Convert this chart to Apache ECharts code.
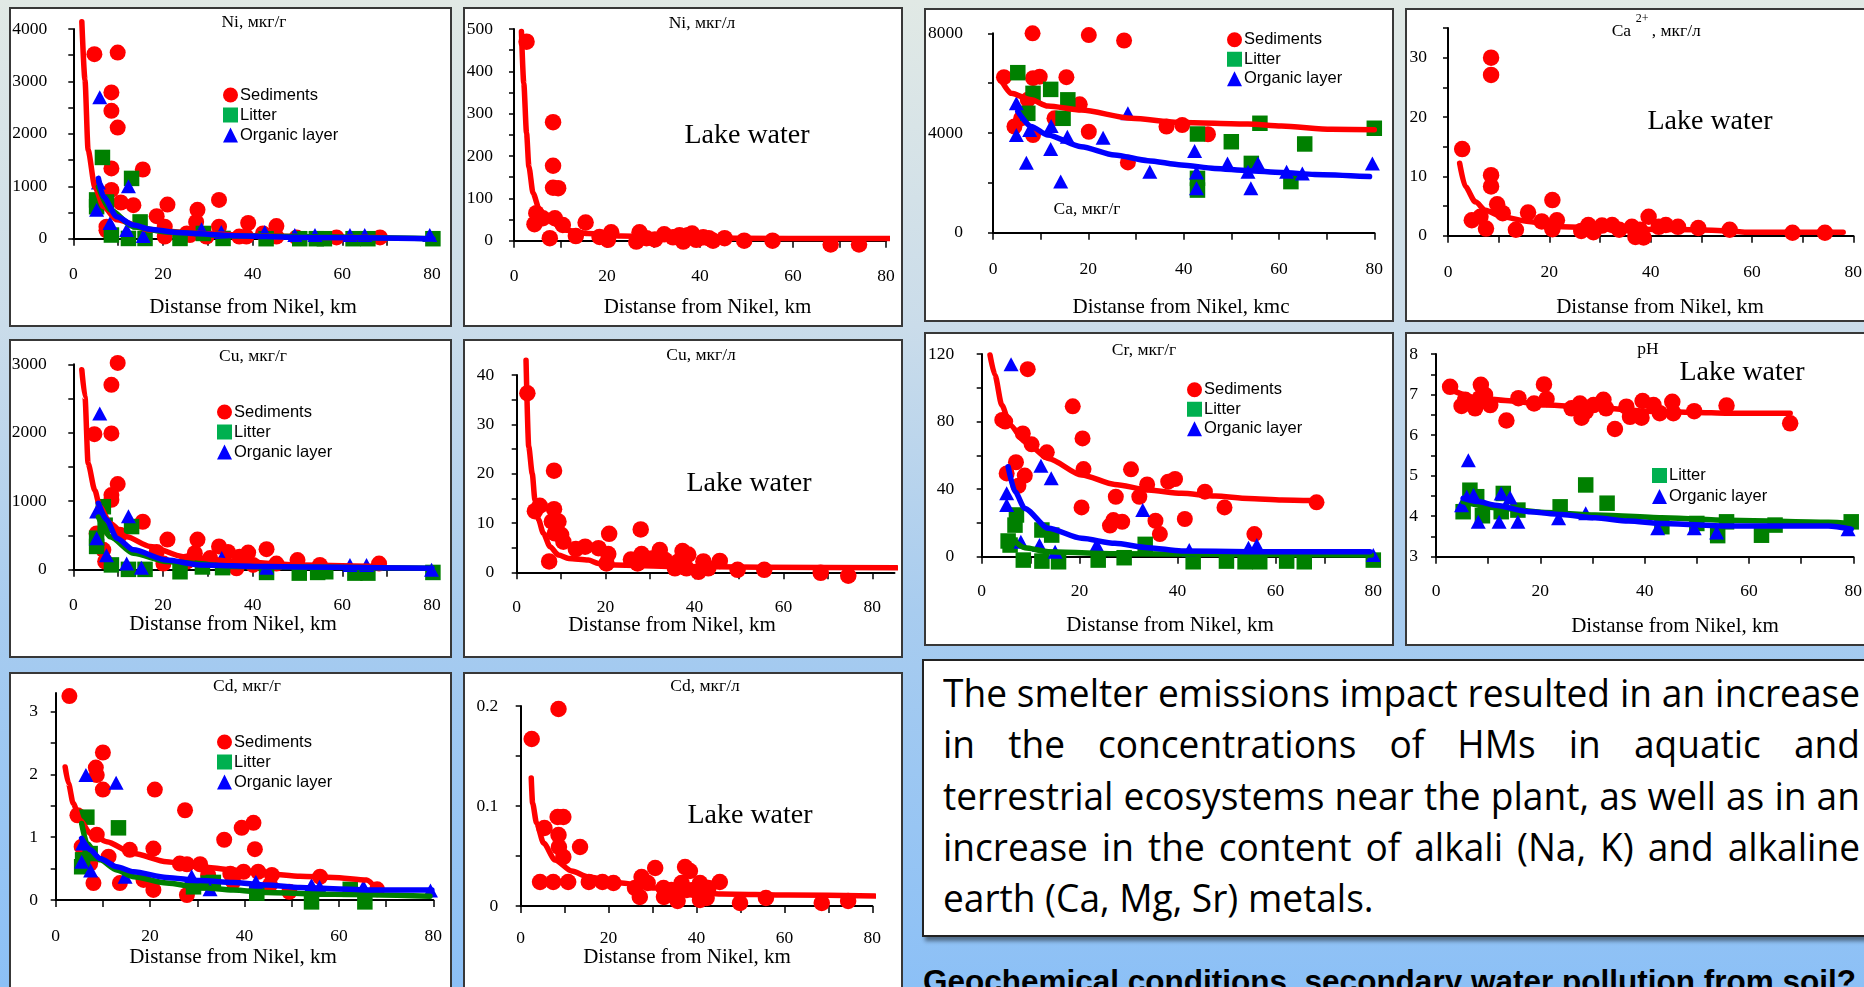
<!DOCTYPE html>
<html><head><meta charset="utf-8">
<script src="https://cdn.jsdelivr.net/npm/echarts@6/dist/echarts.min.js"></script>
<style>
html,body{margin:0;padding:0;}
body{width:1864px;height:987px;overflow:hidden;position:relative;background:linear-gradient(to bottom,#e1e9e5 0%,#cadcea 33%,#a8ccef 62%,#8cc0f6 100%);}
.box{position:absolute;box-sizing:border-box;background:#fff;border:2px solid #383838;}
.chart{position:absolute;}
#note{position:absolute;left:922px;top:659px;width:960px;height:278px;box-sizing:border-box;background:#fff;border:2px solid #222;box-shadow:3px 4px 4px rgba(0,0,0,0.45);}
#noteText{position:absolute;left:943px;top:667px;transform-origin:0 0;font-family:'Open Sans',sans-serif;font-size:38px;color:#000;}
#noteText div{height:51.25px;line-height:51.25px;text-align:justify;text-align-last:justify;}
#noteText div.last{text-align-last:left;}
#bottomText{position:absolute;left:923px;top:966px;font:bold 31.5px 'Liberation Sans',Arial,sans-serif;line-height:31.5px;white-space:nowrap;color:#000;}
</style></head>
<body>
<div id="note"></div>
<div id="noteText"></div>
<div id="bottomText">Geochemical conditions, secondary water pollution from soil?</div>
<script>
// ---------- tick / label values ----------
const xTickVals = [0,10,20,30,40,50,60,70,80];
const xLabelVals = [0,20,40,60,80];
const niG_yTicks = [0,500,1000,1500,2000,2500,3000,3500,4000];
const niG_yLabels = [0,1000,2000,3000,4000];
const niL_yTicks = [0,50,100,150,200,250,300,350,400,450,500];
const niL_yLabels = [0,100,200,300,400,500];
const caG_yTicks = [0,2000,4000,6000,8000];
const caG_yLabels = [0,4000,8000];
const caL_yTicks = [0,5,10,15,20,25,30,35];
const caL_yLabels = [0,10,20,30];
const cuG_yTicks = [0,500,1000,1500,2000,2500,3000];
const cuG_yLabels = [0,1000,2000,3000];
const cuL_yTicks = [0,5,10,15,20,25,30,35,40];
const cuL_yLabels = [0,10,20,30,40];
const crG_yTicks = [0,20,40,60,80,100,120];
const crG_yLabels = [0,40,80,120];
const ph_yTicks = [3,3.5,4,4.5,5,5.5,6,6.5,7,7.5,8];
const ph_yLabels = [3,4,5,6,7,8];
const cdG_yTicks = [0,0.5,1,1.5,2,2.5,3];
const cdG_yLabels = [0,1,2,3];
const cdL_yTicks = [0,0.05,0.1,0.15,0.2];
const cdL_yLabels = [0,0.1,0.2];

// ---------- Ni, mkg/g ----------
const niG_sed = [[4.7,3520],[9.9,3550],[8.5,2790],[8.5,2440],[9.9,2120],[8.5,1340],[15.5,1320],[8.5,930],[10.6,690],[13.4,640],[21,650],[18.6,430],[27.7,550],[27.4,320],[32.5,740],[39,300],[45.3,240],[32.5,230],[20.4,230],[20.4,40],[7.4,230],[7.4,160],[25.3,100],[26,70],[37,40],[42.3,100],[38.6,40],[45.3,40],[49.8,25],[68.4,25],[58.7,25],[29.7,40]];
const niG_lit = [[6.5,1550],[13,1150],[5.2,740],[5.2,610],[7.4,700],[8.5,70],[12.3,5],[14.9,320],[16,5],[23.8,5],[29,100],[33.4,5],[43,0],[50.5,0],[54.2,0],[56,0],[62.4,0],[65.7,0],[80.2,0]];
const niG_org = [[5.9,2700],[5.6,1070],[12.3,1000],[5.2,550],[8.2,300],[11.9,165],[15.6,50],[28.6,180],[33,130],[42.7,130],[49.4,70],[53.9,70],[61.7,70],[65,70],[79.5,70]];
const niG_trSed = [[1.9,4140],[2.6,3030],[3.3,1690],[4.8,990],[6.7,610],[9.7,360],[17.1,165],[28.2,100],[43,50],[57.9,25],[68.4,25]];
const niG_trLit = [[5.6,990],[8.2,550],[13.4,230],[20.8,130],[35.7,50],[80,0]];
const niG_trOrg = [[5.6,1150],[6.7,800],[9.7,420],[13.4,260],[17.1,180],[23,120],[35.7,57],[50.5,25],[80.2,0]];

// ---------- Ni, mkg/l ----------
const niL_water = [[2.7,470],[8.4,280],[8.4,177],[8.4,125],[9.5,124],[4.8,65],[4.4,39],[6.2,53],[7.7,6],[8.8,53],[10.5,37],[15.4,43],[13.3,11],[18.4,9],[20.9,20],[20.2,2],[27,20],[26.3,-2],[28.5,6],[30.3,3],[32.3,15],[34.2,8],[35.6,13],[36.4,-2],[37.4,13],[38.3,17],[39.2,2],[40.7,8],[41.9,6],[42.8,0],[45.3,6],[49.5,0],[55.6,0],[68.1,-9],[74.2,-9]];
const niL_tr = [[1.6,494],[2.1,372],[2.7,254],[3.2,175],[4.1,112],[5.5,72],[8,45],[10.9,25],[15.9,17],[23.1,11],[37.4,7],[59,5],[81.2,5]];

// ---------- Ca, mkg/g ----------
const caG_sed = [[8.3,8000],[20.1,7930],[27.5,7710],[2.3,6240],[8.4,6200],[9.8,6260],[15.4,6240],[4.5,4260],[5.9,4590],[8.4,3920],[12.9,4590],[18.2,5150],[20.1,4050],[28.3,2820],[36.4,4260],[39.7,4320],[45.1,3950],[7.3,5330]];
const caG_lit = [[5.2,6420],[8.4,5590],[12.1,5750],[15.7,5330],[14.7,4590],[7.3,4790],[42.9,3960],[42.9,2180],[42.9,1710],[50,3650],[54.2,2780],[56,4390],[62.5,2050],[65.4,3560],[80,4190]];
const caG_org = [[4.9,5190],[4.9,3920],[7,2810],[7.7,4120],[12.1,3360],[12.2,4280],[14.2,2050],[15.6,3850],[23.1,3810],[28.3,4790],[32.9,2450],[42.3,3280],[42.7,2420],[42.7,1780],[49.2,2780],[53.5,2450],[54.1,1780],[55.6,2780],[61.6,2450],[64.9,2380],[79.6,2780]];
const caG_trSed = [[1.7,6130],[3.8,5590],[8,5330],[11.5,5080],[18.5,4920],[29,4590],[39.5,4420],[53.5,4360],[60.5,4280],[71,4150],[80,4130]];
const caG_trOrg = [[5.2,4860],[8,4260],[11.5,3920],[18.5,3450],[25.5,3120],[32.5,2890],[39.5,2720],[46.5,2580],[53.5,2490],[60.5,2420],[67.5,2340],[79,2250]];

// ---------- Ca2+, mkg/l ----------
const caL_water = [[2.8,14.6],[8.5,30],[8.5,27.1],[8.5,10.2],[8.5,8.3],[9.7,5.3],[10.8,3.8],[4.7,2.6],[6.4,3.2],[7.5,1.2],[13.4,1],[15.8,3.9],[18.5,2.4],[20.6,6],[21.5,2.6],[20.6,1.1],[26.3,0.8],[27.7,1.8],[28.7,0.6],[30.4,1.7],[32.4,1.8],[33.8,1],[36.3,1.5],[37,-0.2],[38.6,-0.3],[39.6,3.2],[37.9,1],[41.6,1.5],[43,1.8],[45.4,1.5],[49.4,1.3],[55.6,1],[68,0.5],[74.4,0.5]];
const caL_tr = [[2.3,12.2],[3.4,8.3],[5.4,5.7],[7.4,4.3],[10.7,3.2],[15.9,2.4],[22.5,1.5],[35.6,1.1],[48.8,1],[55.4,0.8],[58.6,0.6],[78,0.6]];

// ---------- Cu, mkg/g ----------
const cuG_sed = [[9.9,3020],[8.5,2700],[4.7,1980],[8.5,1990],[9.9,1250],[8.5,1090],[8.5,1020],[15.5,700],[21,440],[27.7,440],[32.5,340],[39,250],[43.1,300],[34.5,260],[37.1,190],[45.3,90],[50,140],[55,70],[68.2,90],[18.6,260],[20.1,90],[25.3,120],[27.1,240],[30.5,170],[36.4,20],[40.1,70],[7.1,120],[6.7,290],[10.4,510],[5.2,530]];
const cuG_lit = [[6.7,920],[7.1,650],[13,630],[5.2,340],[5.2,460],[8.5,70],[12.3,5],[16,5],[23.8,-30],[28.8,40],[33.3,30],[43.1,-40],[50.4,-50],[54.5,-40],[56.3,-30],[62.8,-50],[65.7,-50],[80.2,-40]];
const cuG_org = [[5.9,2280],[5.2,850],[12.3,780],[5.2,460],[7.4,210],[11.9,90],[15.2,30],[33.1,170],[43.1,30],[61.7,70],[65.4,70],[79.9,0]];
const cuG_trSed = [[1.9,2920],[2.6,2530],[3.3,1550],[4.8,1160],[5.9,920],[8.2,680],[11.9,480],[17.1,340],[24.5,190],[35.7,120],[50.5,70],[69.1,45]];
const cuG_trLit = [[5.6,770],[8.2,480],[13.4,240],[20.8,120],[35.7,45],[80,20]];
const cuG_trOrg = [[5.6,970],[7.4,730],[9.7,460],[13.4,290],[20.8,140],[28.2,70],[43.1,45],[58,35],[80,20]];

// ---------- Cu, mkg/l ----------
const cuL_water = [[2.4,36.3],[8.4,20.6],[4.1,12.4],[5.2,13.5],[8.4,12.8],[9.4,10.3],[7.9,10.3],[7.3,2.2],[10,7.6],[10.5,6.2],[8.6,7.9],[13.3,4.7],[15.4,5.2],[18.4,4.9],[20.8,7.8],[20.6,3.7],[20.2,1.8],[25.7,2.6],[27.9,8.7],[28.1,3.7],[27.2,1.8],[30.4,2.8],[32.2,4.5],[33.4,2.5],[35.6,0.8],[37.3,4.3],[38.6,3.6],[38.2,0.8],[40.9,0.1],[42,2.2],[43.1,0.8],[45.7,2.3],[49.7,0.5],[55.7,0.5],[68.4,-0.1],[74.6,-0.7],[36.4,2.2]];
const cuL_tr = [[2.1,43],[2.7,25.5],[3.5,20],[4.1,14.7],[4.9,10.7],[6,7.9],[7.5,5.2],[9.4,3.5],[11.7,2.8],[16.1,2.5],[18.4,1.8],[22.1,1.5],[35,1.2],[55,1],[85.5,0.9]];

// ---------- Cr, mkg/g ----------
const crG_sed = [[9.4,111],[18.6,89],[4.2,81],[4.8,80],[8.4,73],[10.2,66.5],[13.3,61.8],[20.6,70],[20.8,51.9],[7,55.9],[5.1,49.3],[8.8,48],[7.5,42],[20.4,29.2],[30.5,51.7],[27.4,35.5],[32.2,35.5],[33.8,42.8],[26.2,18.4],[26.9,21.7],[28.7,20.7],[35.5,21.3],[36.4,13.4],[38.1,44.4],[39.5,46],[41.5,22.3],[45.6,38.5],[49.6,29.2],[55.7,13.4],[68.4,32.2]];
const crG_lit = [[5.4,9.3],[6.8,18.7],[7.1,24.7],[5.8,6.9],[8.5,-2],[12.3,15.8],[14.3,12.8],[12.3,-2.6],[15.7,-3],[23.8,-2],[29.1,-0.6],[33.4,7.3],[43.2,-3],[50,-2.6],[53.8,-3],[56.8,-3],[62.3,-2.6],[65.9,-3],[80,-2]];
const crG_org = [[6,113.9],[5.1,37.5],[5.1,30.6],[12.1,53.9],[14.2,46.4],[32.9,27.6],[8,8.9],[11.8,6.9],[15,3],[23.5,6.9],[42.4,3.9],[54.5,5.3],[56.2,6.9],[80,1]];
const crG_trSed = [[1.7,119.4],[2.7,107.6],[4.1,89.8],[5.8,78],[8.8,68.1],[13.6,58.2],[20.4,48.4],[27.2,42.8],[34,39.5],[40.8,37.5],[47.7,35.9],[54.5,34.5],[61.3,33.6],[68,33.2]];
const crG_trLit = [[6.1,10.9],[8.8,5.3],[13.6,3],[27.2,1.8],[79.6,1]];
const crG_trOrg = [[5.4,53.3],[6.8,38.5],[8.8,28.6],[13.6,16.8],[20.4,10.9],[27.2,7.9],[34,5.3],[40.8,3.4],[54.5,3],[79.3,3]];

// ---------- pH ----------
const ph_water = [[2.7,7.19],[4.9,6.72],[5.6,6.87],[7.5,6.66],[8.6,7.24],[8.4,6.91],[9.4,6.99],[10.4,6.74],[13.5,6.36],[15.8,6.91],[18.8,6.78],[20.7,7.25],[21.2,6.89],[26,6.66],[27.6,6.78],[27.9,6.43],[28.7,6.58],[30.2,6.74],[32.1,6.87],[32.6,6.66],[34.3,6.15],[36.5,6.7],[37.2,6.45],[39.4,6.43],[39.6,6.84],[41.7,6.74],[42.9,6.54],[45.3,6.82],[45.5,6.54],[49.5,6.59],[55.7,6.73],[67.9,6.29]];
const ph_lit = [[5.2,4.11],[6.5,4.64],[7.8,4.48],[8.9,4.01],[12.5,4.11],[12.9,4.56],[15.7,4.15],[23.8,4.23],[28.7,4.77],[32.8,4.32],[43.3,3.74],[50,3.82],[54,3.52],[55.7,3.86],[62.4,3.53],[65,3.78],[79.6,3.86]];
const ph_org = [[6.2,5.38],[4.9,4.27],[7.2,4.52],[8.1,3.86],[12.1,3.86],[12.5,4.56],[14.2,4.46],[15.7,3.86],[23.5,3.95],[28.7,4.07],[42.5,3.7],[49.5,3.7],[53.8,3.6],[79,3.68],[5.9,4.48]];
const ph_trWater = [[3,7.11],[8.1,6.91],[14.5,6.84],[20.9,6.74],[30.5,6.68],[40.1,6.59],[49.6,6.56],[56,6.54],[67.9,6.54]];
const ph_trLit = [[5.2,4.36],[11.3,4.21],[20.9,4.09],[30.5,4.03],[43.3,3.96],[56,3.9],[75.2,3.85],[79.7,3.82]];
const ph_trOrg = [[5.2,4.44],[8.1,4.36],[11.3,4.27],[17.7,4.11],[24.1,4.04],[30.5,3.96],[36.9,3.88],[43.3,3.82],[55.9,3.76],[75.2,3.76],[79.6,3.68]];

// ---------- Cd, mkg/g ----------
const cdG_sed = [[2.9,3.25],[10,2.35],[8.5,2.11],[8.7,1.99],[10,1.76],[21,1.76],[27.4,1.43],[4.6,1.35],[8.7,1.04],[39.4,1.15],[41.9,1.23],[35.7,0.96],[42.2,0.81],[20.7,0.82],[15.7,0.8],[11.2,0.69],[5.5,0.85],[7.3,0.58],[8,0.27],[13.6,0.27],[18.6,0.32],[20.7,0.16],[26.3,0.58],[27.8,0.57],[30.6,0.57],[27.8,0.08],[32.3,0.4],[37,0.42],[39.8,0.45],[42.9,0.45],[45.8,0.4],[37.6,0.29],[45.4,0.24],[49.5,0.13],[56,0.37],[68.1,0.17]];
const cdG_lit = [[6.6,1.32],[13.3,1.15],[5.7,0.64],[5.5,0.53],[7.3,0.74],[33.4,0.28],[32.3,0.27],[42.6,0.11],[54.2,-0.03],[65.5,-0.03],[62.4,0.17],[29.2,0.21]];
const cdG_org = [[6.4,1.99],[12.8,1.87],[5.7,0.9],[5.5,0.61],[7.4,0.47],[14.7,0.37],[28.8,0.38],[32.7,0.17],[42.4,0.29],[54.2,0.24],[55.9,0.21],[65.2,0.21],[79.4,0.15]];
const cdG_trSed = [[2,2.12],[2.7,1.86],[3.7,1.54],[5.2,1.27],[7.3,1.06],[10.8,0.93],[16.5,0.74],[23.5,0.61],[30.6,0.53],[37.6,0.48],[44.7,0.42],[51.8,0.38],[58.8,0.36],[65.9,0.32],[68,0.17]];
const cdG_trLit = [[5.5,1.22],[6.6,0.9],[9.4,0.64],[12.9,0.48],[16.5,0.37],[23.5,0.27],[30.6,0.2],[37.6,0.16],[44.7,0.12],[58.8,0.09],[79.3,0.06]];
const cdG_trOrg = [[5.5,0.98],[7.3,0.8],[9.4,0.66],[12.9,0.53],[16.5,0.45],[23.5,0.36],[30.6,0.31],[37.6,0.28],[44.7,0.24],[51.8,0.2],[58.8,0.18],[65.9,0.16],[79.7,0.16]];

// ---------- Cd, mkg/l ----------
const cdL_water = [[2.5,0.167],[8.6,0.197],[5.4,0.078],[8.4,0.089],[9.7,0.089],[8.6,0.071],[8.7,0.059],[9.7,0.049],[13.5,0.059],[4.4,0.024],[7.4,0.024],[10.8,0.024],[15.5,0.024],[18.6,0.024],[21.1,0.023],[26,0.018],[27.5,0.029],[28.9,0.023],[27.1,0.009],[30.6,0.038],[32.5,0.018],[32.6,0.009],[34.3,0.016],[35.7,0.005],[37.4,0.039],[38.5,0.035],[36.6,0.023],[37.8,0.016],[39.3,0.016],[40.8,0.023],[40.8,0.006],[42.3,0.008],[42.7,0.018],[45.3,0.024],[49.9,0.003],[55.8,0.008],[68.5,0.003],[74.5,0.005]];
const cdL_tr = [[2.4,0.128],[2.7,0.103],[3.6,0.083],[5.2,0.063],[7.8,0.046],[11.6,0.035],[15.4,0.029],[23,0.023],[30.6,0.018],[38.1,0.014],[45.7,0.012],[60.9,0.011],[80.6,0.01]];

// ---------- note text ----------
const noteLines = [
  "The smelter emissions impact resulted in an increase",
  "in the concentrations of HMs in aquatic and",
  "terrestrial ecosystems near the plant, as well as in an",
  "increase in the content of alkali (Na, K) and alkaline",
  "earth (Ca, Mg, Sr) metals."
];

const SERIF = "'Liberation Serif','Times New Roman',serif";
const SANS = "'Liberation Sans',Arial,sans-serif";
const RED = '#ff0000', GREEN = '#008000', BLUE = '#0000ff';

function sc(name, data, kind) {
  const k = {
    sed: ['circle', 16, RED],
    water: ['circle', 16.5, RED],
    lit: ['rect', 15.5, GREEN],
    org: ['triangle', [15, 14], BLUE]
  }[kind];
  return {type:'scatter', name, data, symbol:k[0], symbolSize:k[1], itemStyle:{color:k[2], opacity:1},
          clip:false, silent:true, z: kind==='org'?4:(kind==='lit'?3:2)};
}
function tr(name, data, color, z) {
  return {type:'line', name, data, symbol:'none', showSymbol:false, smooth:0.25, smoothMonotone:'x',
          lineStyle:{color, width:5.5, cap:'round', join:'round'}, clip:false, silent:true, z:z};
}
function txt(text, x, y, size, align) {
  return {type:'text', x, y, silent:true, z:20,
    style:{text, fontFamily:SERIF, fontSize:size, fill:'#000',
      textAlign:align||'center', textVerticalAlign:'middle', align:align||'center', verticalAlign:'middle'}};
}
const XT = 'Distanse from Nikel, km';

function legend3(left, top, lh, items) {
  const all = {
    Sediments:{name:'Sediments', icon:'circle'},
    Litter:{name:'Litter', icon:'rect', itemStyle:{color:'#00b050'}},
    'Organic layer':{name:'Organic layer', icon:'triangle'}
  };
  return {show:true, orient:'vertical', left, top, itemWidth:15, itemHeight:15, itemGap:0, selectedMode:false,
    textStyle:{fontFamily:SANS, fontSize:16.5, color:'#000', lineHeight:lh, padding:[0,0,0,-3]},
    data:items.map(n=>all[n])};
}

const panels = [
  {box:[9,7,443,320], grid:[64.3,22,358.7,209.7], xMax:80, y:[0,4000], yT:niG_yTicks, yL:niG_yLabels, yLM:26, xLM:26.5,
   legend:legend3(209,73,20,['Sediments','Litter','Organic layer']),
   graphic:[txt('Ni, мкг/г',245,15,17.5), txt(XT,244,300,21)],
   series:[sc('Sediments',niG_sed,'sed'), sc('Litter',niG_lit,'lit'), sc('Organic layer',niG_org,'org'),
           tr('t1',niG_trSed,RED,5), tr('t2',niG_trLit,GREEN,6), tr('t3',niG_trOrg,BLUE,7)]},
  {box:[463,7,440,320], grid:[51,22,372,211.7], xMax:80, y:[0,500], yT:niL_yTicks, yL:niL_yLabels, yLM:21, xLM:27,
   graphic:[txt('Ni, мкг/л',239,16,17.5), txt('Lake water',284,129,28), txt(XT,244.5,300,21)],
   series:[sc('Lake water',niL_water,'water'), tr('t1',niL_tr,RED,5)]},
  {box:[924,8,470,314], grid:[69,25.3,381.3,199.4], xMax:80, y:[0,8000], yT:caG_yTicks, yL:caG_yLabels, yLM:30, xLM:28,
   legend:legend3(298,17,19.5,['Sediments','Litter','Organic layer']),
   graphic:[txt('Ca, мкг/г',163,201,17.5), txt('Distanse from Nikel, kmc',257,299,21)],
   series:[sc('Sediments',caG_sed,'sed'), sc('Litter',caG_lit,'lit'), sc('Organic layer',caG_org,'org'),
           tr('t1',caG_trSed,RED,5), tr('t3',caG_trOrg,BLUE,7)]},
  {box:[1405,8,470,314], grid:[43,20,405.3,207.7], xMax:80, y:[0,35], yT:caL_yTicks, yL:caL_yLabels, yLM:21, xLM:28,
   graphic:[txt('Ca',206.7,23,17.5,'left'), txt('2+',230.7,11,12,'left'), txt(', мкг/л',246.7,23,17.5,'left'),
            txt('Lake water',305,114,28), txt(XT,255,299,21)],
   series:[sc('Lake water',caL_water,'water'), tr('t1',caL_tr,RED,5)]},
  {box:[9,339,443,319], grid:[64.3,25.3,358.7,205.4], xMax:80, y:[0,3000], yT:cuG_yTicks, yL:cuG_yLabels, yLM:26.6, xLM:26.3,
   legend:legend3(203,58,20,['Sediments','Litter','Organic layer']),
   graphic:[txt('Cu, мкг/г',244,17,17.5), txt(XT,224,285,21)],
   series:[sc('Sediments',cuG_sed,'sed'), sc('Litter',cuG_lit,'lit'), sc('Organic layer',cuG_org,'org'),
           tr('t1',cuG_trSed,RED,5), tr('t2',cuG_trLit,GREEN,6), tr('t3',cuG_trOrg,BLUE,7)]},
  {box:[463,339,440,319], grid:[53.7,36,377.8,197.3], xMax:85, y:[0,40], yT:cuL_yTicks, yL:cuL_yLabels, yLM:22.4, xLM:25.7,
   graphic:[txt('Cu, мкг/л',238,16,17.5), txt('Lake water',286,145,28), txt(XT,209,286,21)],
   series:[sc('Lake water',cuL_water,'water'), tr('t1',cuL_tr,RED,5)]},
  {box:[924,332,470,314], grid:[57.7,22,391.6,202.7], xMax:80, y:[0,120], yT:crG_yTicks, yL:crG_yLabels, yLM:27.4, xLM:26,
   legend:legend3(258,43,19.5,['Sediments','Litter','Organic layer']),
   graphic:[txt('Cr, мкг/г',220,18,17.5), txt(XT,246,293,21)],
   series:[sc('Sediments',crG_sed,'sed'), sc('Litter',crG_lit,'lit'), sc('Organic layer',crG_org,'org'),
           tr('t1',crG_trSed,RED,5), tr('t2',crG_trLit,GREEN,6), tr('t3',crG_trOrg,BLUE,7)]},
  {box:[1405,332,470,314], grid:[31,22,417.3,202.7], xMax:80, y:[3,8], yT:ph_yTicks, yL:ph_yLabels, yLM:18, xLM:26,
   legend:legend3(242,128,21,['Litter','Organic layer']),
   graphic:[txt('pH',243,17,17.5), txt('Lake water',337,41,28), txt(XT,270,294,21)],
   series:[sc('Lake water',ph_water,'water'), sc('Litter',ph_lit,'lit'), sc('Organic layer',ph_org,'org'),
           tr('t1',ph_trWater,RED,5), tr('t2',ph_trLit,GREEN,6), tr('t3',ph_trOrg,BLUE,7)]},
  {box:[9,672,443,330], grid:[46.7,20.9,377.6,207.1], xMax:80, y:[0,3.3], yT:cdG_yTicks, yL:cdG_yLabels, yLM:17.7, xLM:27,
   legend:legend3(203,55,20,['Sediments','Litter','Organic layer']),
   graphic:[txt('Cd, мкг/г',238,14,17.5), txt(XT,224,285,21)],
   series:[sc('Sediments',cdG_sed,'sed'), sc('Litter',cdG_lit,'lit'), sc('Organic layer',cdG_org,'org'),
           tr('t1',cdG_trSed,RED,5), tr('t2',cdG_trLit,GREEN,6), tr('t3',cdG_trOrg,BLUE,7)]},
  {box:[463,672,440,330], grid:[57.7,34,351.6,200], xMax:80, y:[0,0.2], yT:cdL_yTicks, yL:cdL_yLabels, yLM:22.4, xLM:23,
   graphic:[txt('Cd, мкг/л',242,14,17.5), txt('Lake water',287,144,28), txt(XT,224,285,21)],
   series:[sc('Lake water',cdL_water,'water'), tr('t1',cdL_tr,RED,5)]}
];

function makePanel(p) {
  const [L,T,W,H] = p.box;
  const box = document.createElement('div');
  box.className = 'box';
  Object.assign(box.style, {left:L+'px', top:T+'px', width:W+'px', height:H+'px'});
  document.body.appendChild(box);
  const el = document.createElement('div');
  el.className = 'chart';
  Object.assign(el.style, {left:L+'px', top:T+'px', width:W+'px', height:H+'px'});
  document.body.appendChild(el);
  const chart = echarts.init(el, null, {renderer:'canvas', width:W, height:H});
  const axisBase = {
    type:'value', splitLine:{show:false},
    axisLine:{show:true, onZero:false, lineStyle:{color:'#000', width:2}},
    axisLabel:{show:true, color:'#000', fontFamily:SERIF, fontSize:17.5, formatter:v=>String(v)}
  };
  chart.setOption({
    animation:false,
    grid:{left:p.grid[0], top:p.grid[1], width:p.grid[2], height:p.grid[3], containLabel:false, outerBoundsMode:'none'},
    xAxis:Object.assign({}, axisBase, {min:0, max:p.xMax,
      axisTick:{show:true, inside:false, length:7, customValues:xTickVals, lineStyle:{color:'#000', width:1.5}},
      axisLabel:Object.assign({}, axisBase.axisLabel, {customValues:xLabelVals, margin:p.xLM})}),
    yAxis:Object.assign({}, axisBase, {min:p.y[0], max:p.y[1],
      axisTick:{show:true, inside:false, length:5, customValues:p.yT, lineStyle:{color:'#000', width:1.5}},
      axisLabel:Object.assign({}, axisBase.axisLabel, {customValues:p.yL, margin:p.yLM})}),
    legend:p.legend || {show:false},
    tooltip:{show:false},
    graphic:{elements:p.graphic},
    series:p.series
  });
}
panels.forEach(makePanel);

// note text box
(function(){
  const box = document.getElementById('noteText');
  const meas = document.createElement('span');
  meas.style.cssText = "position:absolute;visibility:hidden;white-space:nowrap;font-family:'Open Sans',sans-serif;font-size:38px;";
  document.body.appendChild(meas);
  let maxW = 0;
  noteLines.slice(0,4).forEach(t=>{ meas.textContent = t; maxW = Math.max(maxW, meas.getBoundingClientRect().width); });
  meas.remove();
  const target = 915;
  const s = target / maxW;
  box.style.width = (target / s + 2) + 'px';
  box.style.transform = 'scaleX(' + s + ')';
  noteLines.forEach((t,i)=>{
    const d = document.createElement('div');
    d.textContent = t;
    if (i === noteLines.length-1) d.className = 'last';
    box.appendChild(d);
  });
})();
</script>
</body></html>
